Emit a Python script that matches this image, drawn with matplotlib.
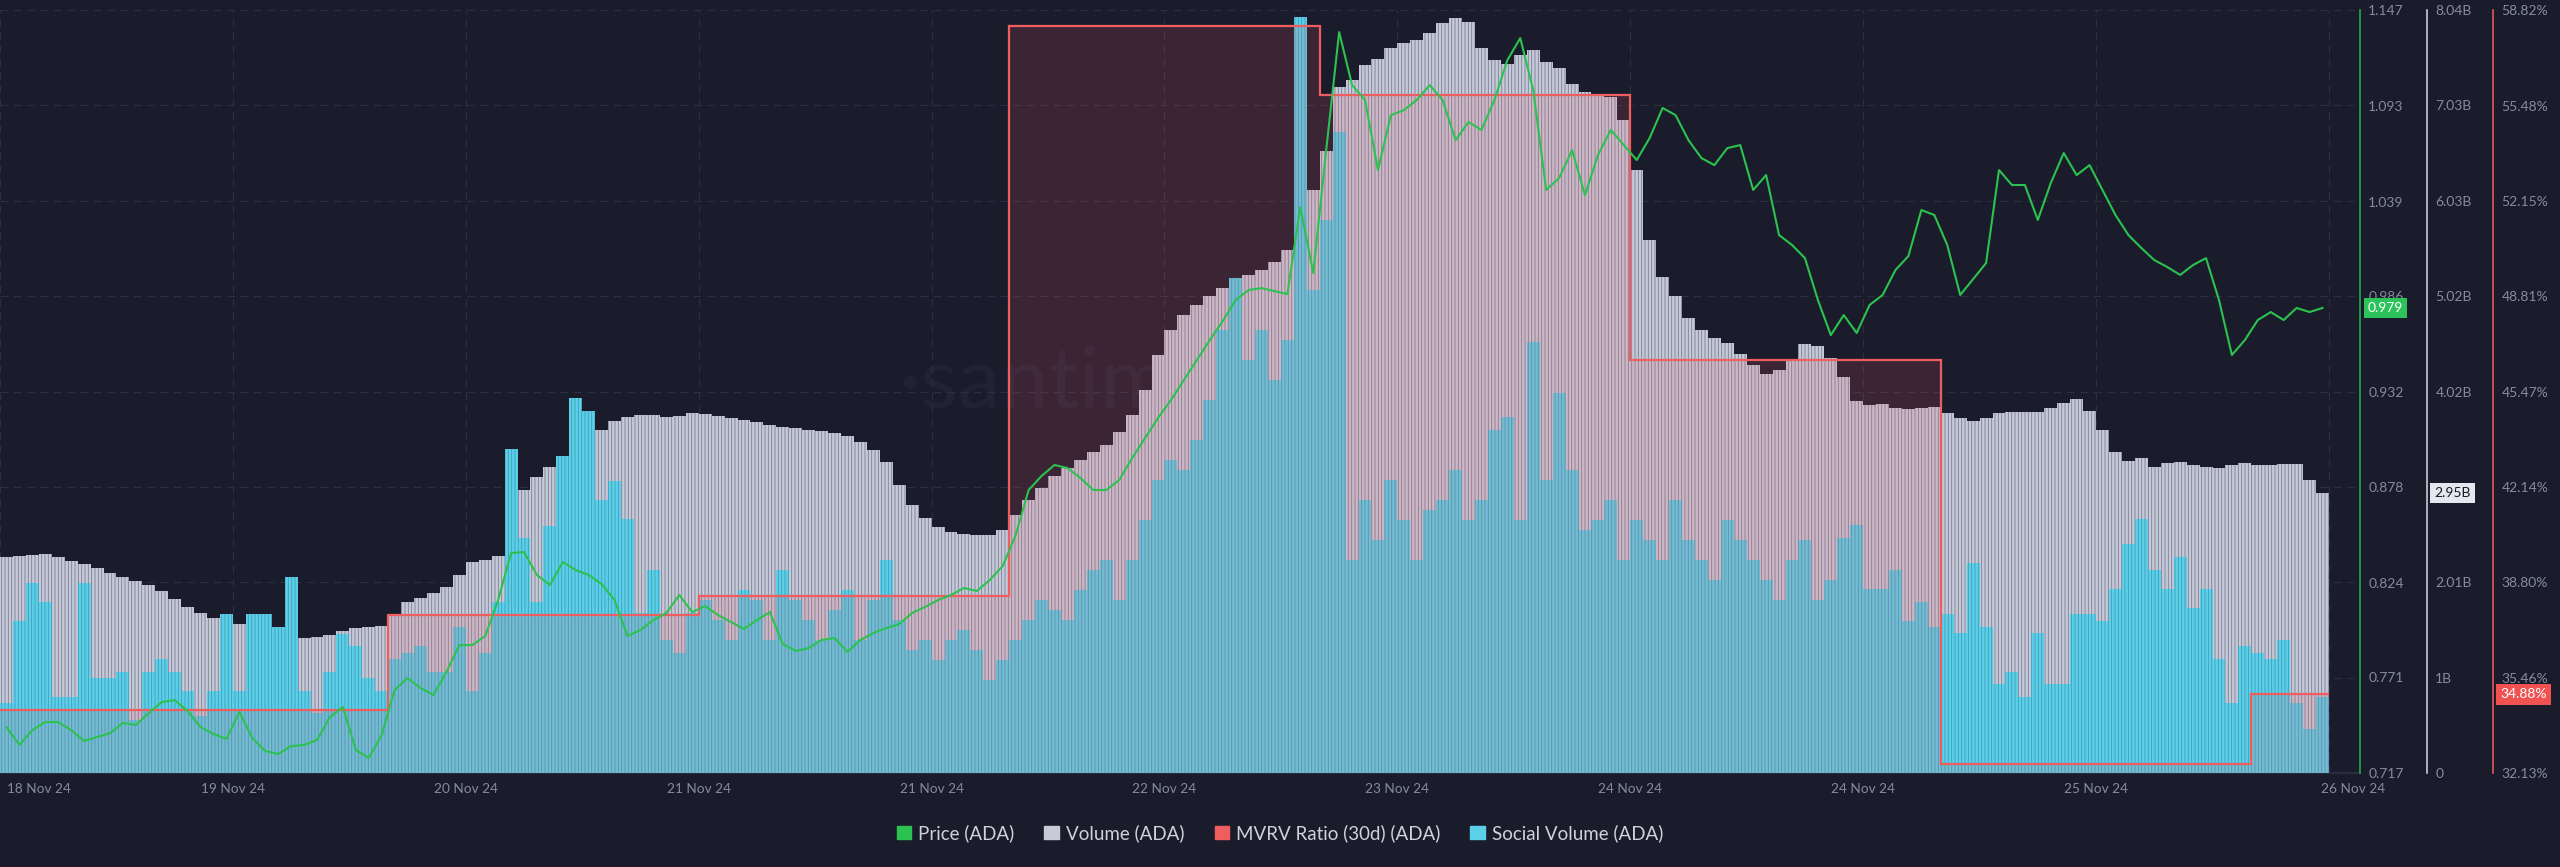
import numpy as np
import matplotlib
matplotlib.use("Agg")
import matplotlib.pyplot as plt
from matplotlib.patches import Patch

plt.rcParams['font.family'] = ['Lato', 'DejaVu Sans']
plt.rcParams['hatch.linewidth'] = 0.6

# hourly data, 18 Nov 24 ~20:00 -> 26 Nov 24 ~08:00
volume_b = [2.28, 2.29, 2.30, 2.31, 2.28, 2.23, 2.20, 2.16, 2.11, 2.07,
            2.02, 1.98, 1.92, 1.83, 1.75, 1.69, 1.63, 1.59, 1.57, 1.56,
            1.55, 1.53, 1.44, 1.42, 1.43, 1.45, 1.50, 1.53, 1.54, 1.55,
            1.66, 1.80, 1.84, 1.90, 1.96, 2.09, 2.22, 2.25, 2.29, 2.67,
            2.98, 3.12, 3.22, 3.32, 3.41, 3.51, 3.61, 3.71, 3.75, 3.77,
            3.77, 3.75, 3.76, 3.79, 3.78, 3.76, 3.74, 3.72, 3.70, 3.67,
            3.65, 3.64, 3.61, 3.60, 3.58, 3.55, 3.49, 3.40, 3.28, 3.03,
            2.82, 2.69, 2.59, 2.54, 2.52, 2.51, 2.51, 2.56, 2.72, 2.88,
            3.00, 3.13, 3.21, 3.30, 3.38, 3.46, 3.59, 3.77, 4.04, 4.40,
            4.67, 4.83, 4.93, 5.03, 5.11, 5.18, 5.25, 5.30, 5.38, 5.51,
            6.04, 6.14, 6.56, 7.23, 7.30, 7.46, 7.52, 7.64, 7.69, 7.72,
            7.80, 7.90, 7.96, 7.91, 7.64, 7.51, 7.47, 7.57, 7.62, 7.49,
            7.43, 7.26, 7.18, 7.14, 7.12, 6.88, 6.35, 5.62, 5.23, 5.03,
            4.79, 4.67, 4.58, 4.53, 4.42, 4.30, 4.20, 4.25, 4.35, 4.52,
            4.50, 4.37, 4.17, 3.92, 3.88, 3.89, 3.85, 3.84, 3.85, 3.86,
            3.79, 3.74, 3.71, 3.74, 3.79, 3.80, 3.80, 3.80, 3.85, 3.90,
            3.94, 3.81, 3.61, 3.38, 3.29, 3.32, 3.23, 3.27, 3.28, 3.25,
            3.22, 3.21, 3.25, 3.27, 3.25, 3.25, 3.26, 3.26, 3.09, 2.95]

social = [92, 199, 249, 224, 100, 100, 249, 125, 125, 132,
          69, 132, 149, 132, 107, 75, 107, 208, 107, 208,
          208, 191, 257, 107, 79, 132, 182, 166, 125, 107,
          149, 157, 166, 132, 132, 191, 107, 157, 224, 425,
          308, 224, 324, 415, 491, 474, 358, 383, 333, 210,
          266, 174, 157, 210, 227, 201, 174, 240, 227, 174,
          266, 227, 201, 174, 214, 240, 174, 227, 279, 201,
          161, 174, 148, 174, 187, 161, 122, 148, 174, 201,
          227, 214, 201, 240, 266, 279, 227, 279, 332, 384,
          410, 397, 436, 489, 581, 649, 541, 581, 515, 567,
          991, 633, 725, 840, 279, 358, 305, 384, 332, 279,
          345, 358, 397, 332, 358, 450, 467, 332, 565, 384,
          498, 397, 318, 332, 358, 279, 332, 305, 279, 358,
          305, 279, 253, 332, 305, 279, 253, 227, 279, 305,
          227, 253, 308, 325, 241, 241, 266, 199, 224, 191,
          208, 183, 275, 191, 117, 132, 100, 183, 117, 117,
          208, 208, 199, 241, 300, 333, 266, 241, 283, 216,
          241, 149, 92, 166, 157, 149, 174, 92, 58, 100]

price = [0.7429, 0.7328, 0.7412, 0.7457, 0.7457, 0.7412, 0.7350, 0.7373, 0.7395, 0.7452,
         0.7441, 0.7508, 0.7570, 0.7581, 0.7519, 0.7429, 0.7390, 0.7362, 0.7514, 0.7367,
         0.7294, 0.7277, 0.7322, 0.7328, 0.7356, 0.7486, 0.7542, 0.7300, 0.7255, 0.7384,
         0.7638, 0.7705, 0.7649, 0.7610, 0.7739, 0.7891, 0.7891, 0.7942, 0.8145, 0.8410,
         0.8415, 0.8286, 0.8230, 0.8359, 0.8314, 0.8286, 0.8235, 0.8145, 0.7942, 0.7976,
         0.8032, 0.8072, 0.8173, 0.8077, 0.8111, 0.8060, 0.8021, 0.7982, 0.8032, 0.8077,
         0.7897, 0.7858, 0.7874, 0.7920, 0.7931, 0.7852, 0.7920, 0.7959, 0.7987, 0.8010,
         0.8072, 0.8106, 0.8145, 0.8173, 0.8213, 0.8196, 0.8258, 0.8337, 0.8511, 0.8765,
         0.8844, 0.8906, 0.8889, 0.8833, 0.8765, 0.8765, 0.8821, 0.8945, 0.9058, 0.9171,
         0.9272, 0.9385, 0.9498, 0.9610, 0.9717, 0.9836, 0.9892, 0.9903, 0.9886, 0.9869,
         1.0360, 0.9988, 1.0681, 1.1346, 1.1047, 1.0963, 1.0568, 1.0878, 1.0906, 1.0963,
         1.1047, 1.0963, 1.0737, 1.0839, 1.0794, 1.0963, 1.1188, 1.1312, 1.1019, 1.0456,
         1.0523, 1.0681, 1.0427, 1.0653, 1.0794, 1.0709, 1.0625, 1.0749, 1.0918, 1.0878,
         1.0737, 1.0636, 1.0596, 1.0692, 1.0709, 1.0456, 1.0540, 1.0202, 1.0146, 1.0072,
         0.9836, 0.9638, 0.9751, 0.9650, 0.9808, 0.9864, 1.0005, 1.0084, 1.0343, 1.0315,
         1.0146, 0.9864, 0.9954, 1.0044, 1.0568, 1.0484, 1.0484, 1.0287, 1.0495, 1.0664,
         1.0540, 1.0596, 1.0456, 1.0315, 1.0202, 1.0129, 1.0061, 1.0022, 0.9977, 1.0033,
         1.0072, 0.9836, 0.9526, 0.9610, 0.9723, 0.9768, 0.9723, 0.9791, 0.9768, 0.9791]

# daily MVRV (30d), hour index where each daily value starts
mvrv_start_hour = [0, 30, 54, 78, 102, 126, 150, 174, 180]
mvrv_pct = [34.33, 37.66, 38.32, 58.26, 55.85, 46.58, 32.44, 34.88]

xtick_hours = [0, 18, 36, 54, 72, 90, 108, 126, 144, 162, 180]
xtick_labels = ['18 Nov 24', '19 Nov 24', '20 Nov 24', '21 Nov 24', '21 Nov 24', '22 Nov 24',
                '23 Nov 24', '24 Nov 24', '24 Nov 24', '25 Nov 24', '26 Nov 24']
price_ticks = [0.717, 0.771, 0.824, 0.878, 0.932, 0.986, 1.039, 1.093, 1.147]
vol_ticks = [0, 1.005, 2.01, 3.015, 4.02, 5.025, 6.03, 7.035, 8.04]
vol_labels = ['0', '1B', '2.01B', '', '4.02B', '5.02B', '6.03B', '7.03B', '8.04B']
mvrv_ticks = [32.13, 35.46, 38.80, 42.14, 45.47, 48.81, 52.15, 55.48, 58.82]

BG = '#1a1c2b'
GRID = '#2c2f42'
TICK_C = '#868b9f'
VOL_C = '#c6c9d8'
SOC_C = '#5ccfe9'
PRICE_C = '#2cc24f'
MVRV_C = '#ef5d5f'

hours = np.arange(len(volume_b))

fig = plt.figure(figsize=(25.6, 8.67), dpi=100, facecolor=BG)
ax_vol = fig.add_axes([0.0, 0.1084, 0.921875, 0.8800])
ax_vol.set_facecolor(BG)
ax_soc = ax_vol.twinx()
ax_mvrv = ax_vol.twinx()
ax_price = ax_vol.twinx()

# watermark
ax_vol.text(0.465, 0.51, '\u00b7santiment', transform=ax_vol.transAxes, fontsize=62,
            color='#212335', ha='center', va='center', zorder=0.5)

# volume bars
ax_vol.bar(hours, volume_b, width=1.0, align='edge', color=VOL_C, edgecolor='#7b7f92',
           linewidth=0, hatch='|||||', zorder=1)
ax_vol.set_ylim(0, 8.04)
ax_vol.set_xlim(0, 182.4)

# social volume bars
ax_soc.bar(hours, social, width=1.0, align='edge', color=SOC_C, edgecolor='#3f9fb8',
           linewidth=0, hatch='|||||')
ax_soc.set_ylim(0, 1000)

# mvrv
ax_mvrv.stairs(mvrv_pct, mvrv_start_hour, baseline=32.13, fill=True, color='#e85a6a',
               alpha=0.16, linewidth=0)
ax_mvrv.stairs(mvrv_pct, mvrv_start_hour, baseline=None, color=MVRV_C, linewidth=1.6)
ax_mvrv.set_ylim(32.13, 58.82)

# price
ax_price.plot(hours + 0.5, price, color=PRICE_C, linewidth=1.5)
ax_price.set_ylim(0.717, 1.147)

# grid and x labels
ax_vol.set_yticks(vol_ticks)
ax_vol.set_yticklabels(vol_labels)
ax_vol.set_xticks(xtick_hours)
ax_vol.set_xticklabels([])
ax_vol.set_axisbelow(True)
ax_vol.grid(True, color=GRID, linewidth=0.8, linestyle=(0, (7, 5)))
ax_vol.tick_params(axis='x', length=0)
for i, lab in enumerate(xtick_labels):
    ha, dx = 'center', 0
    if i == 0:
        ha, dx = 'left', 7
    elif i == len(xtick_labels) - 1:
        dx = 24
    ax_vol.annotate(lab, xy=(xtick_hours[i], 0), xycoords=('data', 'axes fraction'),
                    xytext=(dx, -16), textcoords='offset pixels', ha=ha, va='center',
                    fontsize=9.8, color=TICK_C)

for a in (ax_vol, ax_soc, ax_mvrv, ax_price):
    a.spines['left'].set_visible(False)
    a.spines['top'].set_visible(False)
for a in (ax_soc, ax_mvrv, ax_price):
    a.spines['bottom'].set_visible(False)
ax_vol.spines['bottom'].set_color('#2a2d3e')
ax_vol.spines['bottom'].set_linewidth(1.5)
ax_soc.spines['right'].set_visible(False)
ax_soc.set_yticks([])

ax_vol.yaxis.tick_right()
ax_vol.spines['right'].set_position(('axes', 1.0284))
ax_vol.spines['right'].set_color('#c8cad6')
ax_mvrv.spines['right'].set_position(('axes', 1.0564))
ax_mvrv.spines['right'].set_color('#e0575b')
ax_price.spines['right'].set_color('#22a847')
for a in (ax_vol, ax_mvrv, ax_price):
    a.spines['right'].set_linewidth(1.2)
    a.tick_params(axis='y', length=0, pad=6, labelsize=10, labelcolor=TICK_C)

ax_price.set_yticks(price_ticks)
ax_price.set_yticklabels(['%.3f' % t for t in price_ticks])
ax_mvrv.set_yticks(mvrv_ticks)
ax_mvrv.set_yticklabels(['%.2f%%' % t for t in mvrv_ticks])
for lab in ax_price.get_yticklabels() + ax_vol.get_yticklabels() + ax_mvrv.get_yticklabels():
    lab.set_ha('left')

# last value badges
ax_price.annotate('%.3f' % price[-1], xy=(1.0, price[-1]), xycoords=('axes fraction', 'data'),
                  xytext=(8, 0), textcoords='offset pixels', ha='left', va='center',
                  fontsize=10, color='white', zorder=10, annotation_clip=False,
                  bbox=dict(boxstyle='square,pad=0.3', fc='#2cc45a', ec='none'))
ax_vol.annotate('%.2fB' % volume_b[-1], xy=(1.0284, volume_b[-1]), xycoords=('axes fraction', 'data'),
                xytext=(7, 0), textcoords='offset pixels', ha='left', va='center',
                fontsize=10, color='#151722', zorder=10, annotation_clip=False,
                bbox=dict(boxstyle='square,pad=0.3', fc='#e6e7ee', ec='none'))
ax_mvrv.annotate('%.2f%%' % mvrv_pct[-1], xy=(1.0564, mvrv_pct[-1]), xycoords=('axes fraction', 'data'),
                 xytext=(7, 0), textcoords='offset pixels', ha='left', va='center',
                 fontsize=10, color='white', zorder=10, annotation_clip=False,
                 bbox=dict(boxstyle='square,pad=0.3', fc='#f05252', ec='none'))

handles = [Patch(color=PRICE_C), Patch(color='#c8cad8'), Patch(color=MVRV_C), Patch(color=SOC_C)]
names = ['Price (ADA)', 'Volume (ADA)', 'MVRV Ratio (30d) (ADA)', 'Social Volume (ADA)']
fig.legend(handles, names, loc='center', bbox_to_anchor=(0.5, 0.0392), ncol=4, frameon=False,
           fontsize=13.5, labelcolor='#cfd1dc', handlelength=0.75, handleheight=0.75,
           handletextpad=0.4, columnspacing=1.6)

fig.savefig('out.png', dpi=100, facecolor=BG)
